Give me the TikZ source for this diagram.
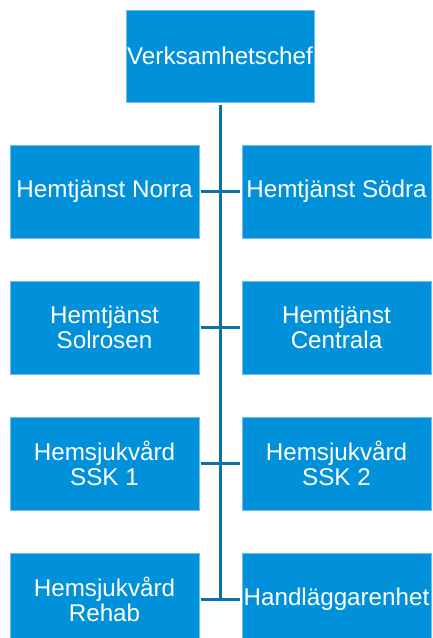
\documentclass[tikz,border=0pt]{standalone}
\usepackage{fontspec}
\setmainfont{Liberation Sans}
\definecolor{boxblue}{RGB}{0,145,218}
\definecolor{edgeblue}{RGB}{110,190,235}
\definecolor{lineblue}{RGB}{14,112,168}
\begin{document}
\begin{tikzpicture}[x=1pt,y=-1pt,
  unit/.style={fill=boxblue,draw=edgeblue,line width=0.5pt,text=white,
    minimum width=189pt,minimum height=93pt,inner sep=0pt,align=center,
    font=\fontsize{24.2}{25}\selectfont},
  conn/.style={draw=lineblue,line width=3pt}]
\useasboundingbox (0,0) rectangle (433,638);
\coordinate (spineTop) at (220,105);
\coordinate (spineEnd) at (220,600);
\node[unit,minimum width=188pt,minimum height=92pt] (chef) at (220,56) {Verksamhetschef};
\node[unit] (l1) at (104.5,191.5) {Hemtjänst Norra};
\node[unit] (r1) at (336.5,191.5) {Hemtjänst Södra};
\node[unit] (l2) at (104.5,327.5) {Hemtjänst\\Solrosen};
\node[unit] (r2) at (336.5,327.5) {Hemtjänst\\Centrala};
\node[unit] (l3) at (104.5,463.5) {Hemsjukvård\\SSK 1};
\node[unit] (r3) at (336.5,463.5) {Hemsjukvård\\SSK 2};
\node[unit] (l4) at (104.5,599.5) {Hemsjukvård\\Rehab};
\node[unit] (r4) at (336.5,599.5) {Handläggarenhet};
\draw[conn] (spineTop) -- (spineEnd);
\foreach \i in {1,2,3,4}{
  \draw[conn,shorten <=2pt,shorten >=2pt] (l\i.east) -- (r\i.west);
}
\end{tikzpicture}
\end{document}
